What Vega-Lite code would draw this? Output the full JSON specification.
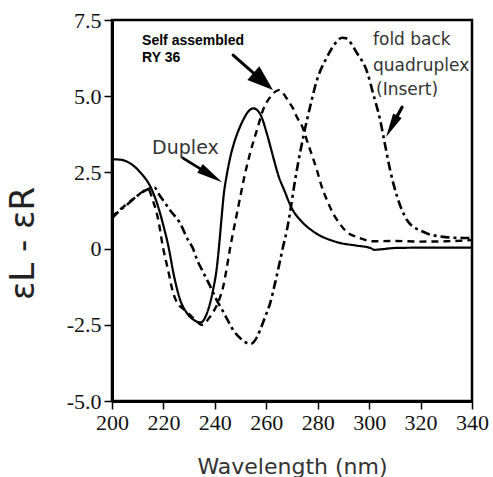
{
  "$schema": "https://vega.github.io/schema/vega-lite/v6.json",
  "width": 360,
  "height": 381,
  "autosize": {"type": "none"},
  "padding": {"left": 112, "top": 20, "right": 21, "bottom": 76},
  "background": "white",
  "config": {
    "view": {"stroke": "black", "strokeWidth": 2.5}
  },
  "datasets": {
    "curves": [
      {"s": "Duplex", "wl": 200, "v": 2.93},
      {"s": "Duplex", "wl": 203, "v": 2.92},
      {"s": "Duplex", "wl": 207, "v": 2.8},
      {"s": "Duplex", "wl": 211, "v": 2.5},
      {"s": "Duplex", "wl": 215, "v": 2.02},
      {"s": "Duplex", "wl": 218, "v": 1.36},
      {"s": "Duplex", "wl": 220, "v": 0.75},
      {"s": "Duplex", "wl": 222, "v": 0.05},
      {"s": "Duplex", "wl": 224, "v": -0.85},
      {"s": "Duplex", "wl": 226.5, "v": -1.68},
      {"s": "Duplex", "wl": 229, "v": -2.1},
      {"s": "Duplex", "wl": 232, "v": -2.35},
      {"s": "Duplex", "wl": 234.5, "v": -2.42},
      {"s": "Duplex", "wl": 237, "v": -2.1},
      {"s": "Duplex", "wl": 239.3, "v": -1.36},
      {"s": "Duplex", "wl": 240.8, "v": -0.6},
      {"s": "Duplex", "wl": 241.6, "v": 0.05},
      {"s": "Duplex", "wl": 242.6, "v": 1.0},
      {"s": "Duplex", "wl": 243.5, "v": 1.8},
      {"s": "Duplex", "wl": 244.6, "v": 2.4},
      {"s": "Duplex", "wl": 246, "v": 3.0},
      {"s": "Duplex", "wl": 247.6, "v": 3.5},
      {"s": "Duplex", "wl": 249.3, "v": 3.9},
      {"s": "Duplex", "wl": 251.2, "v": 4.25},
      {"s": "Duplex", "wl": 253, "v": 4.5},
      {"s": "Duplex", "wl": 255, "v": 4.6},
      {"s": "Duplex", "wl": 257.6, "v": 4.42},
      {"s": "Duplex", "wl": 260.2, "v": 3.78},
      {"s": "Duplex", "wl": 262.7, "v": 3.0},
      {"s": "Duplex", "wl": 264.7, "v": 2.4},
      {"s": "Duplex", "wl": 267.3, "v": 1.85},
      {"s": "Duplex", "wl": 269.2, "v": 1.45},
      {"s": "Duplex", "wl": 271, "v": 1.17},
      {"s": "Duplex", "wl": 273.1, "v": 0.95},
      {"s": "Duplex", "wl": 275, "v": 0.78},
      {"s": "Duplex", "wl": 277, "v": 0.64},
      {"s": "Duplex", "wl": 281, "v": 0.42},
      {"s": "Duplex", "wl": 285, "v": 0.28},
      {"s": "Duplex", "wl": 289, "v": 0.18},
      {"s": "Duplex", "wl": 295, "v": 0.1},
      {"s": "Duplex", "wl": 300.5, "v": 0.02},
      {"s": "Duplex", "wl": 302, "v": -0.04},
      {"s": "Duplex", "wl": 305, "v": -0.02},
      {"s": "Duplex", "wl": 310, "v": 0.02},
      {"s": "Duplex", "wl": 320, "v": 0.03},
      {"s": "Duplex", "wl": 340, "v": 0.03},

      {"s": "Self", "wl": 200, "v": 1.0},
      {"s": "Self", "wl": 202, "v": 1.2},
      {"s": "Self", "wl": 204.3, "v": 1.36},
      {"s": "Self", "wl": 207, "v": 1.55},
      {"s": "Self", "wl": 209.7, "v": 1.72},
      {"s": "Self", "wl": 212.8, "v": 1.92},
      {"s": "Self", "wl": 214, "v": 1.95},
      {"s": "Self", "wl": 216, "v": 1.55},
      {"s": "Self", "wl": 218, "v": 0.94},
      {"s": "Self", "wl": 219.8, "v": 0.05},
      {"s": "Self", "wl": 221.8, "v": -0.7},
      {"s": "Self", "wl": 223.8, "v": -1.46},
      {"s": "Self", "wl": 225.5, "v": -1.8},
      {"s": "Self", "wl": 227.6, "v": -1.97},
      {"s": "Self", "wl": 230, "v": -2.15},
      {"s": "Self", "wl": 232.5, "v": -2.35},
      {"s": "Self", "wl": 235, "v": -2.5},
      {"s": "Self", "wl": 238, "v": -2.25},
      {"s": "Self", "wl": 240.8, "v": -1.85},
      {"s": "Self", "wl": 242, "v": -1.6},
      {"s": "Self", "wl": 243.2, "v": -1.26},
      {"s": "Self", "wl": 244.7, "v": -0.6},
      {"s": "Self", "wl": 246, "v": 0.05},
      {"s": "Self", "wl": 247.5, "v": 0.7},
      {"s": "Self", "wl": 248.6, "v": 1.16},
      {"s": "Self", "wl": 250, "v": 1.75},
      {"s": "Self", "wl": 251.2, "v": 2.25},
      {"s": "Self", "wl": 253.7, "v": 3.13},
      {"s": "Self", "wl": 256.4, "v": 3.9},
      {"s": "Self", "wl": 258.7, "v": 4.54},
      {"s": "Self", "wl": 261.5, "v": 4.97},
      {"s": "Self", "wl": 263.5, "v": 5.15},
      {"s": "Self", "wl": 265, "v": 5.2},
      {"s": "Self", "wl": 266.5, "v": 5.1},
      {"s": "Self", "wl": 268.5, "v": 4.85},
      {"s": "Self", "wl": 270.4, "v": 4.6},
      {"s": "Self", "wl": 272, "v": 4.3},
      {"s": "Self", "wl": 274, "v": 4.0},
      {"s": "Self", "wl": 276, "v": 3.5},
      {"s": "Self", "wl": 279.7, "v": 2.57},
      {"s": "Self", "wl": 281.5, "v": 2.05},
      {"s": "Self", "wl": 283.6, "v": 1.59},
      {"s": "Self", "wl": 286, "v": 1.15},
      {"s": "Self", "wl": 288.7, "v": 0.8},
      {"s": "Self", "wl": 291.8, "v": 0.51},
      {"s": "Self", "wl": 295.3, "v": 0.38},
      {"s": "Self", "wl": 301.5, "v": 0.24},
      {"s": "Self", "wl": 310, "v": 0.25},
      {"s": "Self", "wl": 320, "v": 0.23},
      {"s": "Self", "wl": 330, "v": 0.24},
      {"s": "Self", "wl": 340, "v": 0.28},

      {"s": "Fold", "wl": 200, "v": 1.0},
      {"s": "Fold", "wl": 203, "v": 1.25},
      {"s": "Fold", "wl": 206, "v": 1.45},
      {"s": "Fold", "wl": 208, "v": 1.6},
      {"s": "Fold", "wl": 211, "v": 1.8},
      {"s": "Fold", "wl": 214, "v": 1.95},
      {"s": "Fold", "wl": 216.5, "v": 2.0},
      {"s": "Fold", "wl": 218.5, "v": 1.75},
      {"s": "Fold", "wl": 222.6, "v": 1.26},
      {"s": "Fold", "wl": 226.4, "v": 0.84},
      {"s": "Fold", "wl": 229.6, "v": 0.28},
      {"s": "Fold", "wl": 231.5, "v": 0.0},
      {"s": "Fold", "wl": 233, "v": -0.35},
      {"s": "Fold", "wl": 235, "v": -0.7},
      {"s": "Fold", "wl": 238.9, "v": -1.36},
      {"s": "Fold", "wl": 240.7, "v": -1.69},
      {"s": "Fold", "wl": 242.8, "v": -2.0},
      {"s": "Fold", "wl": 245, "v": -2.35},
      {"s": "Fold", "wl": 247.1, "v": -2.67},
      {"s": "Fold", "wl": 250, "v": -2.95},
      {"s": "Fold", "wl": 252.5, "v": -3.1},
      {"s": "Fold", "wl": 254, "v": -3.12},
      {"s": "Fold", "wl": 256.4, "v": -2.9},
      {"s": "Fold", "wl": 257.6, "v": -2.67},
      {"s": "Fold", "wl": 259.5, "v": -2.25},
      {"s": "Fold", "wl": 261.5, "v": -1.79},
      {"s": "Fold", "wl": 263.5, "v": -1.1},
      {"s": "Fold", "wl": 265.4, "v": -0.38},
      {"s": "Fold", "wl": 266.5, "v": 0.05},
      {"s": "Fold", "wl": 268, "v": 0.6},
      {"s": "Fold", "wl": 269.2, "v": 1.16},
      {"s": "Fold", "wl": 271.2, "v": 2.25},
      {"s": "Fold", "wl": 273.1, "v": 3.13},
      {"s": "Fold", "wl": 275.8, "v": 4.21},
      {"s": "Fold", "wl": 277, "v": 4.64},
      {"s": "Fold", "wl": 279.7, "v": 5.53},
      {"s": "Fold", "wl": 283.6, "v": 6.28},
      {"s": "Fold", "wl": 286.5, "v": 6.7},
      {"s": "Fold", "wl": 289.5, "v": 6.92},
      {"s": "Fold", "wl": 291, "v": 6.9},
      {"s": "Fold", "wl": 295.3, "v": 6.41},
      {"s": "Fold", "wl": 299.2, "v": 5.8},
      {"s": "Fold", "wl": 301.5, "v": 5.1},
      {"s": "Fold", "wl": 304.2, "v": 4.25},
      {"s": "Fold", "wl": 306.2, "v": 3.4},
      {"s": "Fold", "wl": 308.1, "v": 2.6},
      {"s": "Fold", "wl": 310.9, "v": 1.7},
      {"s": "Fold", "wl": 314.7, "v": 0.94},
      {"s": "Fold", "wl": 317, "v": 0.72},
      {"s": "Fold", "wl": 319.8, "v": 0.6},
      {"s": "Fold", "wl": 323, "v": 0.48},
      {"s": "Fold", "wl": 327.6, "v": 0.4},
      {"s": "Fold", "wl": 332, "v": 0.36},
      {"s": "Fold", "wl": 336.5, "v": 0.35},
      {"s": "Fold", "wl": 340, "v": 0.35}
    ],
    "labels": [
      {"text": "Duplex", "wl": 215.6, "v": 3.3, "size": "big"},
      {"text": "fold back", "wl": 301.5, "v": 6.84, "size": "small"},
      {"text": "quadruplex", "wl": 301.5, "v": 6.0, "size": "small"},
      {"text": "(Insert)", "wl": 302.7, "v": 5.2, "size": "small"}
    ],
    "boldLabels": [
      {"text": "Self assembled", "wl": 211.7, "v": 6.81},
      {"text": "RY 36", "wl": 211.7, "v": 6.25}
    ],
    "arrows": [
      {"arrow": "duplex", "x0": 227.6, "y0": 2.97, "x1": 235.5, "y1": 2.56, "tx": 242.8, "ty": 2.18},
      {"arrow": "self", "x0": 247.1, "y0": 6.35, "x1": 255.3, "y1": 5.74, "tx": 262.6, "ty": 5.2},
      {"arrow": "fold", "x0": 312.8, "y0": 4.64, "x1": 310.2, "y1": 4.24, "tx": 306.6, "ty": 3.66}
    ]
  },
  "layer": [
    {
      "mark": {"type": "rule", "color": "#777", "strokeWidth": 1},
      "encoding": {
        "y": {"datum": 0, "type": "quantitative", "scale": {"domain": [-5, 7.5], "nice": false, "zero": false}}
      }
    },
    {
      "data": {"name": "curves"},
      "mark": {"type": "line", "interpolate": "monotone", "color": "black", "strokeCap": "butt", "strokeJoin": "round"},
      "encoding": {
        "x": {
          "field": "wl", "type": "quantitative",
          "scale": {"domain": [200, 340], "nice": false, "zero": false},
          "axis": {
            "values": [200, 220, 240, 260, 280, 300, 320, 340],
            "grid": false,
            "domainColor": "black",
            "domainWidth": 3,
            "tickColor": "black",
            "tickWidth": 1.5,
            "tickSize": 8,
            "labelFont": "Liberation Serif",
            "labelFontSize": 22,
            "labelColor": "#111",
            "labelPadding": 3,
            "labelFlush": false,
            "labelOverlap": false,
            "title": "Wavelength (nm)",
            "titleFont": "DejaVu Sans",
            "titleFontWeight": "normal",
            "titleColor": "#333",
            "titleFontSize": 22,
            "titlePadding": 23
          }
        },
        "y": {
          "field": "v", "type": "quantitative",
          "scale": {"domain": [-5, 7.5], "nice": false, "zero": false},
          "axis": {
            "values": [-5, -2.5, 0, 2.5, 5, 7.5],
            "grid": false,
            "domainColor": "black",
            "domainWidth": 3,
            "tickColor": "black",
            "tickWidth": 1.5,
            "tickSize": 8,
            "labelFont": "Liberation Serif",
            "labelFontSize": 22,
            "labelColor": "#111",
            "labelPadding": 3,
            "labelOverlap": false,
            "labelFlush": false,
            "labelExpr": "datum.value == 0 ? '0' : replace(format(datum.value, '.1f'), '\u2212', '-')",
            "title": "εL - εR",
            "titleFont": "DejaVu Sans",
            "titleFontWeight": "normal",
            "titleFontSize": 34,
            "titleY": 223,
            "titleX": -72,
            "titleColor": "#222"
          }
        },
        "detail": {"field": "s"},
        "strokeDash": {
          "field": "s", "type": "nominal",
          "scale": {"domain": ["Duplex", "Self", "Fold"], "range": [[1, 0], [7, 5], [9, 4, 3, 4]]},
          "legend": null
        },
        "strokeWidth": {
          "field": "s", "type": "nominal",
          "scale": {"domain": ["Duplex", "Self", "Fold"], "range": [2.2, 3.2, 3.2]},
          "legend": null
        }
      }
    },
    {
      "data": {"name": "labels"},
      "mark": {"type": "text", "font": "DejaVu Sans", "align": "left", "baseline": "middle", "color": "#333"},
      "encoding": {
        "x": {"field": "wl", "type": "quantitative"},
        "y": {"field": "v", "type": "quantitative"},
        "text": {"field": "text"},
        "size": {"field": "size", "type": "nominal", "scale": {"domain": ["big", "small"], "range": [19, 17]}, "legend": null}
      }
    },
    {
      "data": {"name": "boldLabels"},
      "mark": {"type": "text", "font": "Liberation Sans", "fontWeight": "bold", "fontSize": 14, "align": "left", "baseline": "middle", "color": "black"},
      "encoding": {
        "x": {"field": "wl", "type": "quantitative"},
        "y": {"field": "v", "type": "quantitative"},
        "text": {"field": "text"}
      }
    },
    {
      "data": {"name": "arrows"},
      "mark": {"type": "rule", "color": "black", "strokeCap": "round"},
      "encoding": {
        "x": {"field": "x0", "type": "quantitative"},
        "y": {"field": "y0", "type": "quantitative"},
        "x2": {"field": "x1"},
        "y2": {"field": "y1"},
        "strokeWidth": {"field": "arrow", "type": "nominal", "scale": {"domain": ["duplex", "self", "fold"], "range": [1.5, 5, 1.5]}, "legend": null}
      }
    },
    {
      "data": {"name": "arrows"},
      "transform": [{"filter": "datum.arrow == 'duplex'"}],
      "mark": {"type": "point", "shape": "M0,0L0.4,2L-0.4,2Z", "filled": true, "color": "black", "opacity": 1, "size": 676, "angle": 122},
      "encoding": {
        "x": {"field": "tx", "type": "quantitative"},
        "y": {"field": "ty", "type": "quantitative"}
      }
    },
    {
      "data": {"name": "arrows"},
      "transform": [{"filter": "datum.arrow == 'self'"}],
      "mark": {"type": "point", "shape": "M0,0L0.7,2L-0.7,2Z", "filled": true, "color": "black", "opacity": 1, "size": 676, "angle": 131},
      "encoding": {
        "x": {"field": "tx", "type": "quantitative"},
        "y": {"field": "ty", "type": "quantitative"}
      }
    },
    {
      "data": {"name": "arrows"},
      "transform": [{"filter": "datum.arrow == 'fold'"}],
      "mark": {"type": "point", "shape": "M0,0L0.4,2L-0.4,2Z", "filled": true, "color": "black", "opacity": 1, "size": 576, "angle": 208},
      "encoding": {
        "x": {"field": "tx", "type": "quantitative"},
        "y": {"field": "ty", "type": "quantitative"}
      }
    }
  ]
}
